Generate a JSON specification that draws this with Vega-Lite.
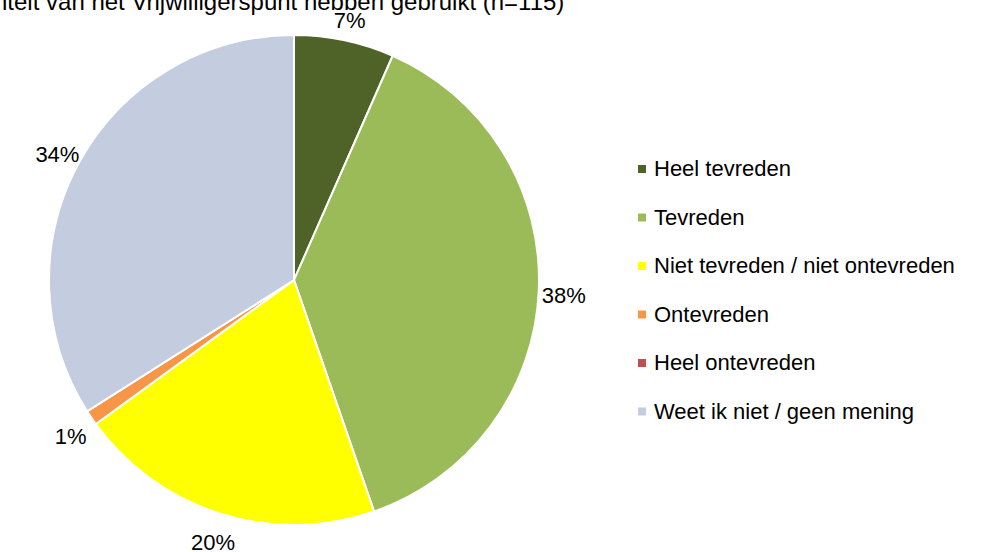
{
  "$schema": "https://vega.github.io/schema/vega-lite/v6.json",
  "width": 588,
  "height": 520,
  "autosize": "none",
  "padding": {"left": 0, "top": 20, "right": 396, "bottom": 12},
  "background": "white",
  "title": {
    "text": "ntelt van het Vrijwilligerspunt hebben gebruikt (n=115)",
    "anchor": "start",
    "frame": "group",
    "orient": "top",
    "offset": 8,
    "baseline": "alphabetic",
    "dy": 32,
    "dx": -6,
    "font": "Liberation Sans",
    "fontSize": 24,
    "fontWeight": "normal",
    "color": "#000000"
  },
  "data": {
    "values": [
      {"categorie": "Heel tevreden", "pct": 6.6, "label": "7%", "volgorde": 1},
      {"categorie": "Tevreden", "pct": 38.1, "label": "38%", "volgorde": 2},
      {"categorie": "Niet tevreden / niet ontevreden", "pct": 20.3, "label": "20%", "volgorde": 3},
      {"categorie": "Ontevreden", "pct": 1.0, "label": "1%", "volgorde": 4},
      {"categorie": "Heel ontevreden", "pct": 0, "label": "", "volgorde": 5},
      {"categorie": "Weet ik niet / geen mening", "pct": 34.0, "label": "34%", "volgorde": 6}
    ]
  },
  "encoding": {
    "theta": {"field": "pct", "type": "quantitative", "stack": true},
    "order": {"field": "volgorde", "type": "quantitative"},
    "color": {
      "field": "categorie",
      "type": "nominal",
      "sort": ["Heel tevreden", "Tevreden", "Niet tevreden / niet ontevreden", "Ontevreden", "Heel ontevreden", "Weet ik niet / geen mening"],
      "scale": {
        "domain": ["Heel tevreden", "Tevreden", "Niet tevreden / niet ontevreden", "Ontevreden", "Heel ontevreden", "Weet ik niet / geen mening"],
        "range": ["#4F6228", "#9BBB59", "#FFFF00", "#F79646", "#C0504D", "#C4CDE0"]
      },
      "legend": {
        "title": null,
        "orient": "none",
        "legendX": 631,
        "legendY": 138,
        "symbolType": "square",
        "symbolSize": 64,
        "symbolStrokeWidth": 0,
        "labelFont": "Liberation Sans",
        "labelFontSize": 22,
        "labelColor": "#000000",
        "labelOffset": 1,
        "rowPadding": 26.5,
        "labelLimit": 400
      }
    }
  },
  "layer": [
    {
      "mark": {"type": "arc", "outerRadius": 245, "stroke": "white", "strokeWidth": 2}
    },
    {
      "mark": {"type": "text", "radius": 270, "dy": 5, "font": "Liberation Sans", "fontSize": 22, "color": "#000000"},
      "encoding": {
        "text": {"field": "label"},
        "color": {"value": "#000000"}
      }
    }
  ]
}
